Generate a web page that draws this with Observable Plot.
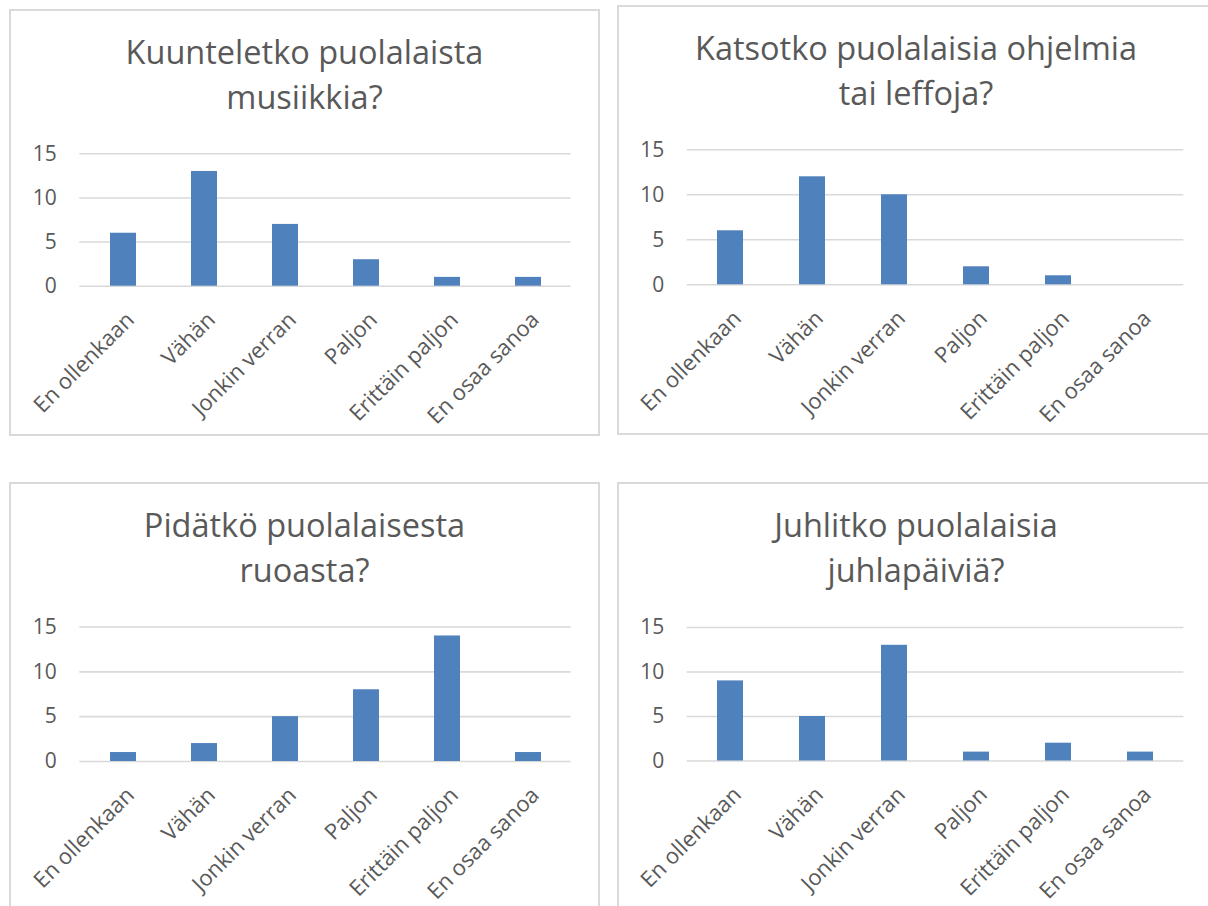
<!DOCTYPE html>
<html>
<head>
<meta charset="utf-8">
<script src="https://cdn.jsdelivr.net/npm/d3@7"></script>
<script src="https://cdn.jsdelivr.net/npm/@observablehq/plot@0.6"></script>
<style>
  html, body { margin: 0; padding: 0; background: #ffffff; }
  body { width: 1208px; height: 906px; overflow: hidden; position: relative; font-family: "Open Sans", sans-serif; }
  .panel-border { position: absolute; box-sizing: border-box; border: 2px solid #d9d9d9; pointer-events: none; }
  .panel-title { position: absolute; text-align: center; color: #595959; font-size: 32.5px; line-height: 45px; font-weight: 400; white-space: nowrap; }
  .panel-svg { position: absolute; }
</style>
</head>
<body>
<script>
// ---- Data ----
const categories = ["En ollenkaan", "Vähän", "Jonkin verran", "Paljon", "Erittäin paljon", "En osaa sanoa"];
const musicValues = [6, 13, 7, 3, 1, 1];
const filmValues = [6, 12, 10, 2, 1, 0];
const foodValues = [1, 2, 5, 8, 14, 1];
const holidayValues = [9, 5, 13, 1, 2, 1];
const yTicks = [0, 5, 10, 15];
const titles = [
  ["Kuunteletko puolalaista", "musiikkia?"],
  ["Katsotko puolalaisia ohjelmia", "tai leffoja?"],
  ["Pidätkö puolalaisesta", "ruoasta?"],
  ["Juhlitko puolalaisia", "juhlapäiviä?"]
];
const seriesList = [musicValues, filmValues, foodValues, holidayValues];

// ---- Layout (page pixels) ----
// box: [left, top, width, height]; plot: [xStart, xEnd, yAt15, yAt0]
const layout = [
  {box: [9, 9, 591, 427], plot: [79.3, 570.7, 153.3, 285.7]},
  {box: [617, 5, 598, 430], plot: [686.7, 1183.3, 149.3, 284.3]},
  {box: [9, 482, 591, 440], plot: [79.3, 570.7, 626.5, 761]},
  {box: [617, 482, 598, 440], plot: [686.7, 1183.3, 627, 760.5]}
];

const barColor = "#4f81bd";
const textColor = "#595959";
const gridColor = "#d9d9d9";

layout.forEach((L, i) => {
  const [bx, by, bw, bh] = L.box;
  const [x0, x1, y15, y0] = L.plot;
  const rows = categories.map((c, j) => ({cat: c, v: seriesList[i][j]}));

  const chart = Plot.plot({
    width: bw,
    height: bh,
    marginLeft: x0 - bx,
    marginRight: bx + bw - x1,
    marginTop: y15 - by,
    marginBottom: by + bh - y0,
    x: {type: "band", domain: categories, paddingInner: 0.683, paddingOuter: 0.3415, axis: null},
    y: {domain: [0, 15], label: null},
    style: {background: "transparent", fontFamily: "Open Sans", color: textColor, overflow: "visible"},
    marks: [
      Plot.ruleY(yTicks, {stroke: gridColor, strokeWidth: 1.6}),
      Plot.barY(rows, {x: "cat", y: "v", fill: barColor}),
      Plot.axisY({ticks: yTicks, tickSize: 0, tickPadding: 23, fontSize: 21, label: null, tickFormat: d => String(d)}),
      Plot.text(rows, {x: "cat", y: d => 0, text: "cat", rotate: -45, textAnchor: "end", lineAnchor: "bottom", dx: 12, dy: 35, fontSize: 22, fill: textColor})
    ]
  });
  chart.classList.add("panel-svg");
  chart.style.left = bx + "px";
  chart.style.top = by + "px";
  document.body.appendChild(chart);

  const t = document.createElement("div");
  t.className = "panel-title";
  t.style.left = bx + "px";
  t.style.width = bw + "px";
  t.style.top = (by + 20) + "px";
  t.innerHTML = titles[i].map(s => `<div>${s}</div>`).join("");
  document.body.appendChild(t);

  const b = document.createElement("div");
  b.className = "panel-border";
  b.style.left = bx + "px";
  b.style.top = by + "px";
  b.style.width = bw + "px";
  b.style.height = bh + "px";
  document.body.appendChild(b);
});
</script>
</body>
</html>
